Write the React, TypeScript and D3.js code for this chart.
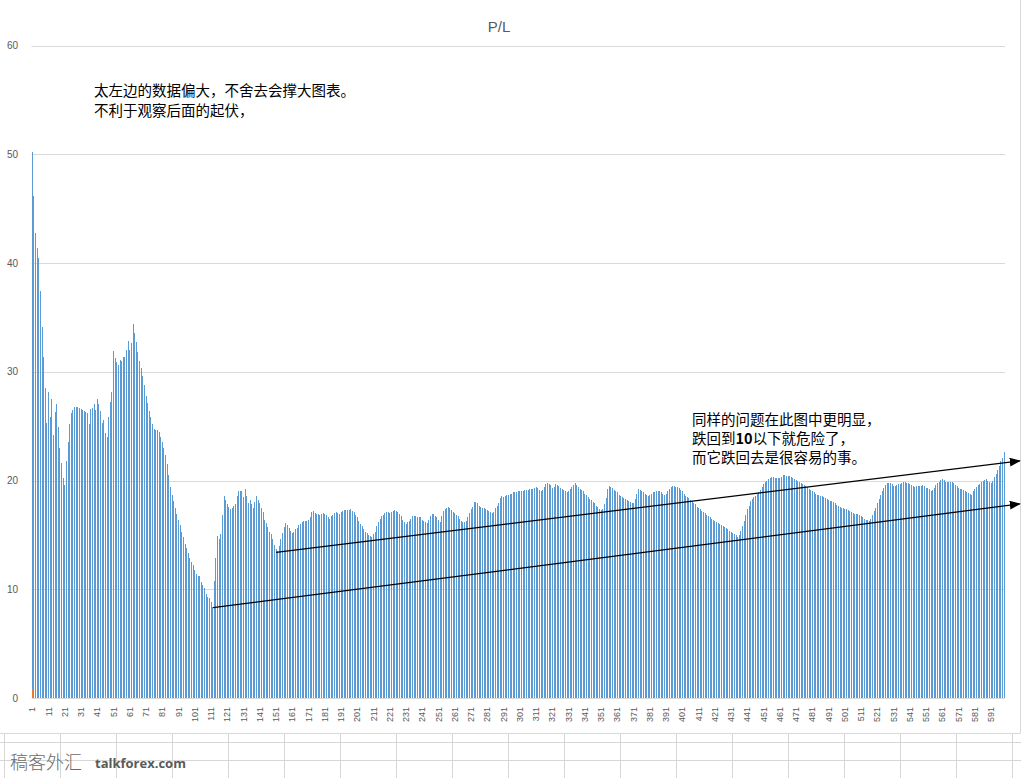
import React, { useEffect } from 'react';
import * as d3 from 'd3';

// P/L series, one value per category (1..599)
const plValues: number[] = [
  50.2, 46.2, 42.8, 41.4, 40.5, 37.4, 34.1, 31.4, 28.5, 25.3,
  28.1, 25.8, 27.5, 24.2, 26.3, 27.0, 24.9, 23.0, 21.6, 20.2,
  19.6, 21.8, 23.5, 25.2, 26.2, 26.5, 26.8, 26.8, 26.8, 26.7,
  26.6, 26.5, 26.4, 26.3, 26.2, 25.2, 26.6, 26.7, 27.0, 26.5,
  27.5, 27.0, 26.4, 25.3, 25.6, 24.4, 24.0, 25.8, 27.2, 28.1,
  31.9, 31.3, 30.9, 30.6, 31.1, 31.0, 31.4, 31.4, 32.0, 32.8,
  32.0, 32.6, 34.4, 33.6, 32.7, 31.8, 31.0, 30.3, 29.6, 28.8,
  27.8, 27.1, 26.4, 25.8, 25.2, 24.7, 24.6, 24.6, 24.5, 24.0,
  23.5, 23.0, 22.3, 21.5, 20.5, 19.4, 18.7, 18.1, 17.5, 16.9,
  16.4, 15.9, 15.3, 14.8, 14.2, 13.8, 13.3, 12.9, 12.5, 12.2,
  11.8, 11.4, 11.2, 11.2, 10.7, 10.4, 10.1, 9.6, 9.3, 9.2,
  8.8, 8.4, 10.8, 12.9, 14.9, 14.6, 15.1, 16.8, 18.6, 18.2,
  17.8, 17.6, 17.4, 17.5, 17.7, 17.8, 18.6, 19.0, 19.0, 19.0,
  18.5, 19.2, 18.6, 17.9, 18.2, 17.8, 17.5, 18.0, 18.6, 18.2,
  17.9, 17.5, 17.1, 16.4, 16.1, 15.7, 15.3, 15.1, 14.6, 14.1,
  13.7, 13.5, 14.0, 14.6, 15.2, 15.7, 16.1, 15.9, 15.6, 15.4,
  15.2, 15.3, 15.5, 15.6, 15.9, 16.0, 16.2, 16.3, 16.3, 16.3,
  16.4, 16.6, 17.1, 17.2, 17.0, 16.9, 16.9, 16.8, 16.9, 17.0,
  16.9, 16.8, 16.6, 16.5, 16.7, 16.8, 17.0, 17.1, 17.0, 16.9,
  17.1, 17.2, 17.3, 17.3, 17.3, 17.3, 17.4, 17.2, 17.1, 16.8,
  16.6, 16.3, 16.0, 15.8, 15.5, 15.3, 15.2, 15.0, 14.9, 14.8,
  15.1, 15.3, 15.8, 16.2, 16.5, 16.7, 16.8, 17.0, 17.1, 17.1,
  17.0, 17.1, 17.2, 17.3, 17.2, 17.1, 16.9, 16.7, 16.4, 16.2,
  16.0, 16.2, 16.3, 16.5, 16.7, 16.7, 16.7, 16.6, 16.6, 16.6,
  16.4, 16.3, 16.2, 16.1, 16.4, 16.7, 16.9, 16.9, 16.7, 16.6,
  16.4, 16.2, 16.7, 17.2, 17.4, 17.5, 17.6, 17.5, 17.3, 17.1,
  17.0, 16.8, 16.7, 16.5, 16.3, 16.2, 16.2, 16.3, 16.6, 17.0,
  17.4, 17.6, 18.0, 18.0, 17.9, 17.7, 17.6, 17.5, 17.5, 17.4,
  17.3, 17.2, 17.1, 17.0, 17.1, 17.5, 17.7, 17.9, 18.4, 18.6,
  18.5, 18.6, 18.7, 18.7, 18.8, 18.8, 18.9, 18.9, 18.9, 19.0,
  19.0, 19.0, 19.0, 19.1, 19.1, 19.1, 19.2, 19.2, 19.2, 19.3,
  19.4, 19.3, 19.1, 19.0, 19.1, 19.4, 19.7, 19.75, 19.7, 19.6,
  19.3, 19.4, 19.7, 19.6, 19.5, 19.3, 19.2, 19.1, 19.0, 18.9,
  19.0, 19.2, 19.4, 19.6, 19.75, 19.6, 19.4, 19.2, 19.1, 19.0,
  18.8, 18.7, 18.5, 18.3, 18.2, 18.0, 17.9, 17.7, 17.6, 17.4,
  17.3, 17.4, 17.8, 18.4, 19.2, 19.5, 19.4, 19.3, 19.1, 19.0,
  18.9, 18.7, 18.6, 18.5, 18.4, 18.3, 18.2, 18.1, 18.0, 17.9,
  17.9, 18.3, 18.8, 19.2, 19.1, 19.0, 18.9, 18.8, 18.7, 18.6,
  18.7, 18.8, 18.9, 18.9, 19.0, 19.0, 19.0, 18.9, 18.8, 18.7,
  18.8, 19.0, 19.2, 19.4, 19.5, 19.5, 19.4, 19.4, 19.3, 19.1,
  19.0, 18.8, 18.6, 18.5, 18.4, 18.2, 18.1, 17.9, 17.8, 17.6,
  17.5, 17.4, 17.2, 17.1, 17.0, 16.8, 16.7, 16.6, 16.5, 16.4,
  16.3, 16.2, 16.1, 16.0, 15.9, 15.8, 15.7, 15.6, 15.5, 15.4,
  15.3, 15.2, 15.1, 15.0, 14.8, 15.0, 15.4, 15.8, 16.3, 16.8,
  17.4, 17.7, 18.1, 18.3, 18.45, 18.6, 18.8, 18.95, 19.15, 19.4,
  19.65, 19.85, 19.95, 20.1, 20.25, 20.3, 20.3, 20.25, 20.2, 20.2,
  20.2, 20.3, 20.5, 20.5, 20.45, 20.4, 20.4, 20.3, 20.2, 20.15,
  20.05, 20.0, 19.9, 19.8, 19.65, 19.55, 19.5, 19.4, 19.25, 19.15,
  19.0, 18.9, 18.8, 18.7, 18.65, 18.6, 18.55, 18.5, 18.4, 18.3,
  18.25, 18.15, 18.1, 18.0, 17.9, 17.75, 17.65, 17.55, 17.5, 17.45,
  17.4, 17.35, 17.25, 17.2, 17.1, 17.0, 16.95, 16.9, 16.9, 16.8,
  16.7, 16.6, 16.5, 16.4, 16.35, 16.3, 16.5, 16.8, 17.2, 17.5,
  17.9, 18.3, 18.65, 19.0, 19.3, 19.6, 19.75, 19.75, 19.75, 19.65,
  19.5, 19.5, 19.6, 19.65, 19.7, 19.75, 19.85, 19.85, 19.8, 19.75,
  19.7, 19.6, 19.5, 19.4, 19.45, 19.5, 19.5, 19.5, 19.6, 19.5,
  19.35, 19.3, 19.2, 19.05, 19.1, 19.35, 19.55, 19.75, 19.9, 20.05,
  20.1, 20.05, 19.9, 19.85, 19.85, 19.9, 19.85, 19.75, 19.6, 19.5,
  19.35, 19.25, 19.2, 19.1, 19.0, 18.95, 18.85, 18.8, 18.7, 19.0,
  19.25, 19.4, 19.6, 19.7, 19.85, 19.95, 20.05, 20.1, 20.0, 19.9,
  19.75, 20.0, 20.3, 20.6, 20.95, 21.35, 21.75, 22.1, 22.6,
];

// Second series: only the first category carries a small value
const seriesTwoValues: number[] = [0.8];

const xTickLabels: string[] = [
  '1', '11', '21', '31', '41', '51', '61', '71', '81', '91',
  '101', '111', '121', '131', '141', '151', '161', '171', '181', '191',
  '201', '211', '221', '231', '241', '251', '261', '271', '281', '291',
  '301', '311', '321', '331', '341', '351', '361', '371', '381', '391',
  '401', '411', '421', '431', '441', '451', '461', '471', '481', '491',
  '501', '511', '521', '531', '541', '551', '561', '571', '581', '591',
];
const yTicks: number[] = [0, 10, 20, 30, 40, 50, 60];

const chartTitle = 'P/L';
const noteLeft: string[] = ['太左边的数据偏大，不舍去会撑大图表。', '不利于观察后面的起伏，'];
const noteRightA = '同样的问题在此图中更明显，';
const noteRightB: string[] = ['跌回到', '10', '以下就危险了，'];
const noteRightC = '而它跌回去是很容易的事。';

// Trend arrows in data coordinates: [category, value]
const arrowStarts: [number, number][] = [[151, 13.4], [112.2, 8.3]];
const arrowEnds: [number, number][] = [[608.6, 21.8], [608.6, 17.85]];

const W = 1021;
const H = 778;

export default function App() {
  useEffect(() => {
    document.body.style.margin = '0';
  }, []);

  const categories = d3.range(1, plValues.length + 1);
  const x = d3
    .scaleBand<number>()
    .domain(categories)
    .range([31.5, 1005])
    .paddingInner(0.38)
    .paddingOuter(0.19);
  const bw = x.bandwidth();
  const barW = Math.max(1, Math.round(bw));
  const n = categories.length;
  const xLin = d3
    .scaleLinear()
    .domain([1, n])
    .range([(x(1) as number) + bw / 2, (x(n) as number) + bw / 2]);
  const y = d3.scaleLinear().domain([0, 60]).range([698, 45.5]);
  const barX = (c: number) => Math.round((x(c) as number) + bw / 2 - barW / 2);

  const textGray = '#595959';
  const gridGray = '#D9D9D9';
  const sheetGray = '#D6D6D6';

  const sheetCols = d3.range(4, W, 56);

  return (
    <svg
      width={W}
      height={H}
      style={{ position: 'absolute', left: 0, top: 0, display: 'block', background: '#fff' }}
    >
      <defs>
        <marker
          id="arrowHead"
          markerUnits="userSpaceOnUse"
          markerWidth={11}
          markerHeight={9}
          refX={10}
          refY={4.5}
          orient="auto"
        >
          <path d="M0,0 L11,4.5 L0,9 Z" fill="#000" />
        </marker>
      </defs>
      <rect x={0} y={0} width={W} height={H} fill="#fff" />

      {/* spreadsheet cells below the chart */}
      <g stroke={sheetGray} strokeWidth={1}>
        <line x1={0} x2={W} y1={742.5} y2={742.5} />
        <line x1={0} x2={W} y1={760.5} y2={760.5} />
        {sheetCols.map((cx) => (
          <line key={cx} x1={cx + 0.5} x2={cx + 0.5} y1={733} y2={H} />
        ))}
      </g>
      {/* chart border */}
      <line x1={0} x2={1020.5} y1={733.5} y2={733.5} stroke={gridGray} />
      <line x1={1020.5} x2={1020.5} y1={0} y2={733.5} stroke={gridGray} />

      {/* title */}
      <text
        x={499}
        y={32}
        textAnchor="middle"
        fontFamily="'Liberation Sans', Arial, sans-serif"
        fontSize={15}
        fill={textGray}
      >
        {chartTitle}
      </text>

      {/* gridlines + y labels */}
      {yTicks.map((t) => (
        <g key={t}>
          <line
            x1={31.5}
            x2={1005}
            y1={Math.round(y(t)) + 0.5}
            y2={Math.round(y(t)) + 0.5}
            stroke={gridGray}
            strokeWidth={1}
          />
          <text
            x={18}
            y={y(t)}
            textAnchor="end"
            dominantBaseline="central"
            fontFamily="'Liberation Sans', Arial, sans-serif"
            fontSize={10}
            fill={textGray}
          >
            {t}
          </text>
        </g>
      ))}

      {/* bars */}
      <g fill="#5B9BD5" shapeRendering="crispEdges">
        {categories.map((c, i) => (
          <rect
            key={c}
            x={barX(c)}
            y={y(plValues[i])}
            width={barW}
            height={y(0) - y(plValues[i])}
          />
        ))}
      </g>
      <g fill="#ED7D31" shapeRendering="crispEdges">
        {seriesTwoValues.map((v, i) => (
          <rect
            key={i}
            x={barX(categories[i])}
            y={y(v)}
            width={barW}
            height={y(0) - y(v)}
          />
        ))}
      </g>

      {/* x labels */}
      {xTickLabels.map((lab) => {
        const c = +lab;
        const cx = (x(c) as number) + bw / 2;
        return (
          <text
            key={lab}
            transform={`translate(${cx},707) rotate(-90)`}
            textAnchor="end"
            dominantBaseline="central"
            fontFamily="'Liberation Sans', Arial, sans-serif"
            fontSize={9}
            fill={textGray}
          >
            {lab}
          </text>
        );
      })}

      {/* trend arrows */}
      {arrowStarts.map((s, i) => (
        <line
          key={i}
          x1={xLin(s[0])}
          y1={y(s[1])}
          x2={xLin(arrowEnds[i][0])}
          y2={y(arrowEnds[i][1])}
          stroke="#000"
          strokeWidth={1.25}
          markerEnd="url(#arrowHead)"
        />
      ))}

      {/* annotations */}
      <g fontFamily="'Noto Sans CJK SC', sans-serif" fontSize={14.5} fill="#000">
        {noteLeft.map((t, i) => (
          <text key={i} x={94} y={89 + i * 20} dominantBaseline="central">
            {t}
          </text>
        ))}
        <text x={692} y={418} dominantBaseline="central">
          {noteRightA}
        </text>
        <text x={692} y={437} dominantBaseline="central">
          <tspan>{noteRightB[0]}</tspan>
          <tspan fontWeight={700}>{noteRightB[1]}</tspan>
          <tspan>{noteRightB[2]}</tspan>
        </text>
        <text x={692} y={456} dominantBaseline="central">
          {noteRightC}
        </text>
      </g>

      {/* watermark */}
      <text
        x={10}
        y={769}
        fontFamily="'Noto Sans CJK SC', sans-serif"
        fontSize={18}
        fontWeight={300}
        fill="#6b6b6b"
      >
        稿客外汇
      </text>
      <text
        x={95}
        y={768}
        fontFamily="'Open Sans', sans-serif"
        fontSize={13}
        fontWeight={700}
        fill="#5a5a5a"
      >
        talkforex.com
      </text>
    </svg>
  );
}
